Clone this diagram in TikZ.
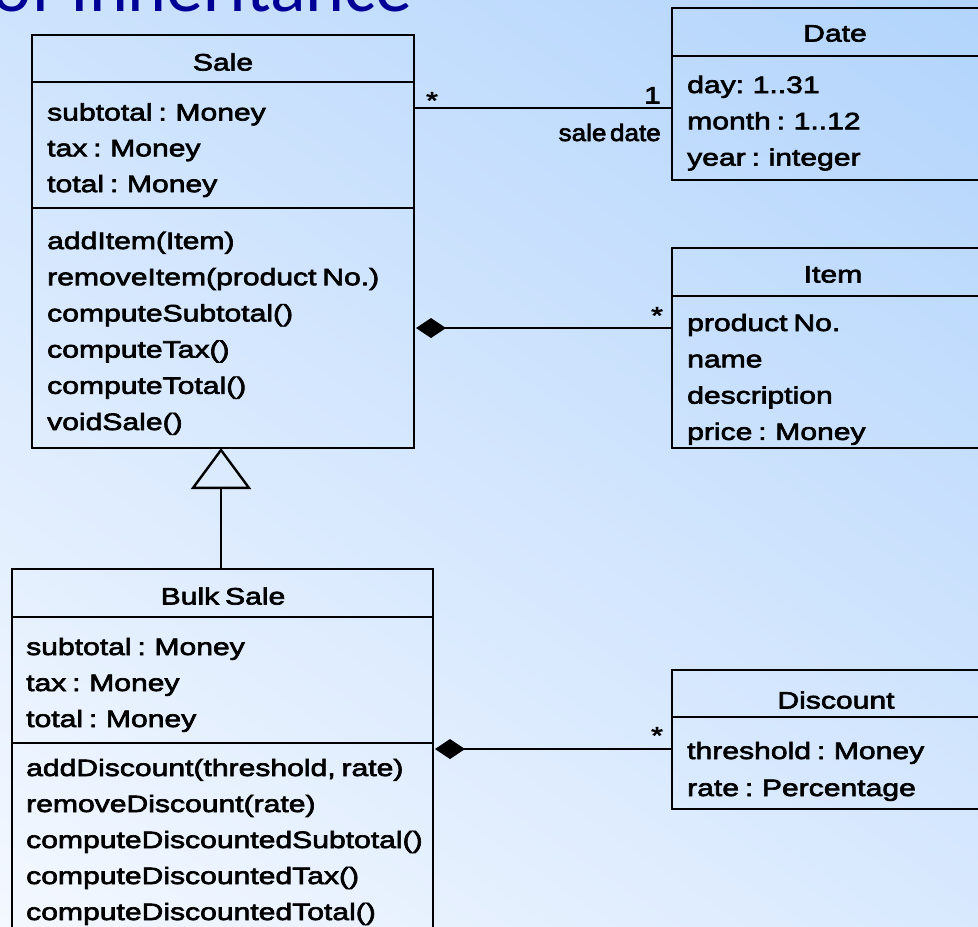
\documentclass[tikz,border=0pt]{standalone}
\usepackage{fontspec}
\usetikzlibrary{arrows.meta}
% class diagram text: Arial-metric sans, widened and heavy like a screen font
\newfontfamily\umlfont[FakeStretch=1.27,FakeBold=2.8,WordSpace=0.7]{Liberation Sans}
\newfontfamily\rolefont[FakeStretch=1.1,FakeBold=2.8,WordSpace=0.5]{Liberation Sans}
\newfontfamily\slidefont{Carlito}
\definecolor{bgtop}{RGB}{178,212,252}
\definecolor{bgmid}{RGB}{210,228,253}
\definecolor{bgbottom}{RGB}{244,248,255}
\definecolor{titleblue}{RGB}{0,0,150}
\begin{document}
\begin{tikzpicture}[x=1pt,y=-1pt,
  compartment/.style={draw=black, line width=2.4pt, inner sep=0pt, outer sep=0pt,
    anchor=north west, minimum width=#1},
  member/.style={anchor=base west, inner sep=0pt, font=\umlfont\fontsize{23.7}{28}\selectfont},
  classname/.style={anchor=base, inner sep=0pt, font=\umlfont\fontsize{23.7}{28}\selectfont},
  mult/.style={inner sep=0pt, font=\umlfont\fontsize{23.7}{28}\selectfont},
  role/.style={anchor=base east, inner sep=0pt, font=\rolefont\fontsize{23.7}{28}\selectfont},
  link/.style={draw=black, line width=2.4pt},
  composition/.style={link, {Diamond[length=30pt,width=20pt]}-, shorten <=2pt},
  generalization/.style={link, -{Triangle[open,length=41pt,width=60pt]}}
]
\useasboundingbox (0,0) rectangle (978,927);

% slide background
\begin{scope}
  \clip (0,0) rectangle (978,927);
  \begin{scope}[transform canvas={shift={(489,463.5)}, rotate=-34.4}]
    \shade[top color=bgtop, middle color=bgmid, bottom color=bgbottom]
      (-1200,-658.5) rectangle (1200,658.5);
  \end{scope}
\end{scope}

% slide title (partly above the page)
\node[anchor=base west, inner sep=0pt, text=titleblue,
      font=\slidefont\fontsize{74}{80}\selectfont] (title) at (-8,11) {of Inheritance};

% ---- Sale ----
\node[compartment=382pt, minimum height=47pt]  (sale-h) at (32,35) {};
\node[compartment=382pt, minimum height=126pt] (sale-a) at (32,82) {};
\node[compartment=382pt, minimum height=240pt] (sale-m) at (32,208) {};
\node[classname] (sale-name) at (223,70.5) {Sale};
\foreach \txt [count=\i from 0] in {subtotal : Money, tax : Money, total : Money}
  \node[member] (sale-a-\i) at (47,{120.5+35.8*\i}) {\txt};
\foreach \txt [count=\i from 0] in {addItem(Item), removeItem(product No.), computeSubtotal(),
    computeTax(), computeTotal(), voidSale()}
  \node[member] (sale-m-\i) at (47,{249+36.2*\i}) {\txt};

% ---- Date ----
\node[compartment=326pt, minimum height=48pt]  (date-h) at (672,8) {};
\node[compartment=326pt, minimum height=124pt] (date-a) at (672,56) {};
\node[classname] (date-name) at (835,41.5) {Date};
\foreach \txt [count=\i from 0] in {day: 1..31, month : 1..12, year : integer}
  \node[member] (date-a-\i) at (687,{93+36.3*\i}) {\txt};

% ---- Item ----
\node[compartment=326pt, minimum height=48pt]  (item-h) at (672,248) {};
\node[compartment=326pt, minimum height=152pt] (item-a) at (672,296) {};
\node[classname] (item-name) at (833,282.5) {Item};
\foreach \txt [count=\i from 0] in {product No., name, description, price : Money}
  \node[member] (item-a-\i) at (687,{331+36.3*\i}) {\txt};

% ---- Bulk Sale ----
\node[compartment=421pt, minimum height=48pt]  (bulk-h) at (12,569) {};
\node[compartment=421pt, minimum height=126pt] (bulk-a) at (12,617) {};
\node[compartment=421pt, minimum height=200pt] (bulk-m) at (12,743) {};
\node[classname] (bulk-name) at (223,604.5) {Bulk Sale};
\foreach \txt [count=\i from 0] in {subtotal : Money, tax : Money, total : Money}
  \node[member] (bulk-a-\i) at (26,{655+36*\i}) {\txt};
\foreach \txt [count=\i from 0] in {{addDiscount(threshold, rate)}, removeDiscount(rate),
    computeDiscountedSubtotal(), computeDiscountedTax(), computeDiscountedTotal()}
  \node[member] (bulk-m-\i) at (26,{776+36*\i}) {\txt};

% ---- Discount ----
\node[compartment=326pt, minimum height=47pt] (disc-h) at (672,670) {};
\node[compartment=326pt, minimum height=92pt] (disc-a) at (672,717) {};
\node[classname] (disc-name) at (836,708.5) {Discount};
\foreach \txt [count=\i from 0] in {threshold : Money, rate : Percentage}
  \node[member] (disc-a-\i) at (687,{759+37*\i}) {\txt};

% ---- relationships ----
% Sale -- Date association
\draw[link] ([yshift=-26pt]sale-a.north east) -- ([yshift=-52pt]date-a.north west);
\node[mult, anchor=base] (sale-date-m1) at (432,108.5) {*};
\node[mult, anchor=base east] (sale-date-m2) at (661,103.5) {1};
\node[role] (sale-date-role) at (661,141) {sale date};

% Sale <>-- Item composition
\draw[composition] (sale-m.east) -- (sale-m.east -| item-a.west);
\node[mult, anchor=base] (sale-item-m) at (657,323.5) {*};

% Bulk Sale --|> Sale generalization
\draw[generalization] (sale-m.south -| 221,0) coordinate (gen-top)
  (bulk-h.north -| gen-top) -- (gen-top);

% Bulk Sale <>-- Discount composition
\draw[composition] ([yshift=-6pt]bulk-m.north east) -- ([yshift=-6pt]bulk-m.north east -| disc-a.west);
\node[mult, anchor=base] (bulk-disc-m) at (657,743.5) {*};
\end{tikzpicture}
\end{document}
